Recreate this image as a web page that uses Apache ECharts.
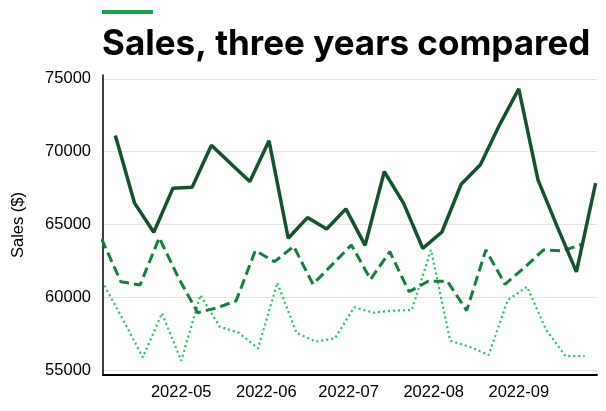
<!DOCTYPE html>
<html lang="en">
<head>
<meta charset="UTF-8"/>
<style>
  html, body { margin: 0; padding: 0; background: #fff; }
  #main { width: 606px; height: 411px; }
</style>
</head>
<body>
<div id="main"></div>
<script src="https://cdn.jsdelivr.net/npm/echarts@6/dist/echarts.min.js"></script>
<script type="text/javascript">
    // weekly sales, each year on its own weekly dates
    var dates2022 = ['2022-04-07','2022-04-14','2022-04-21','2022-04-28','2022-05-05','2022-05-12','2022-05-19','2022-05-26',
        '2022-06-02','2022-06-09','2022-06-16','2022-06-23','2022-06-30','2022-07-07','2022-07-14','2022-07-21','2022-07-28',
        '2022-08-04','2022-08-11','2022-08-18','2022-08-25','2022-09-01','2022-09-08','2022-09-15','2022-09-22','2022-09-29'];
    var sales2022 = [71100, 66460, 64460, 67490, 67560, 70440, 69190, 67940,
        70740, 64050, 65470, 64690, 66070, 63560, 68630, 66460, 63360,
        64480, 67760, 69090, 71840, 74310, 68060, 64850, 61740, 67830];

    var datesPrev1 = ['2022-04-02','2022-04-09','2022-04-16','2022-04-23','2022-04-30','2022-05-07','2022-05-14','2022-05-21',
        '2022-05-28','2022-06-04','2022-06-11','2022-06-18','2022-06-25','2022-07-02','2022-07-09','2022-07-16','2022-07-23',
        '2022-07-30','2022-08-06','2022-08-13','2022-08-20','2022-08-27','2022-09-03','2022-09-10','2022-09-17','2022-09-24'];
    var salesPrev1 = [64000, 61070, 60840, 64090, 61330, 58940, 59270, 59750,
        63200, 62440, 63500, 60890, 62240, 63590, 61230, 63130, 60380,
        61100, 61100, 59080, 63250, 60890, 62030, 63250, 63180, 63640];

    var datesPrev2 = ['2022-04-03','2022-04-10','2022-04-17','2022-04-24','2022-05-01','2022-05-08','2022-05-15','2022-05-22',
        '2022-05-29','2022-06-05','2022-06-12','2022-06-19','2022-06-26','2022-07-03','2022-07-10','2022-07-17','2022-07-24',
        '2022-07-31','2022-08-07','2022-08-14','2022-08-21','2022-08-28','2022-09-04','2022-09-11','2022-09-18','2022-09-25'];
    var salesPrev2 = [60800, 58390, 55870, 58900, 55640, 60150, 57980, 57560,
        56490, 61000, 57560, 56950, 57180, 59310, 58940, 59080, 59120,
        63250, 57020, 56600, 56030, 59810, 60720, 57750, 55960, 55960];

    var yTicks = [55000, 60000, 65000, 70000, 75000];

    function ts(s) {
        var p = s.split('-');
        return Date.UTC(+p[0], +p[1] - 1, +p[2]);
    }
    function pairs(d, v) {
        return d.map(function (s, i) { return [ts(s), v[i]]; });
    }

    var DAY = 86400000;
    var myChart = echarts.init(document.getElementById('main'));

    var options = {
        useUTC: true,
        animation: false,
        backgroundColor: '#ffffff',
        graphic: [
            { type: 'rect', left: 102, top: 10, shape: { width: 51, height: 4 }, style: { fill: '#16a34a' } },
            { type: 'text', left: 102, top: 27,
              style: { text: 'Sales, three years compared', font: 'bold 35px Inter', fill: '#000000' } }
        ],
        grid: { left: 103, right: 9, top: 75, bottom: 36 },
        xAxis: {
            type: 'time',
            min: ts('2022-04-02') + DAY / 2,
            max: ts('2022-09-29') + DAY / 2,
            minInterval: 28 * DAY,
            maxInterval: 31 * DAY,
            axisLine: { lineStyle: { color: '#000', width: 2 } },
            axisTick: { show: false },
            splitLine: { show: false },
            axisLabel: {
                formatter: function (val) {
                    var d = new Date(val);
                    if (d.getUTCDate() !== 1) return '';
                    return echarts.time.format(val, '{yyyy}-{MM}', true);
                },
                color: '#000', fontFamily: 'Liberation Sans', fontSize: 16.5, margin: 9,
                hideOverlap: false
            }
        },
        yAxis: {
            type: 'value',
            min: 54660,
            max: 75260,
            name: 'Sales ($)',
            nameLocation: 'middle',
            nameGap: 76,
            nameRotate: 90,
            nameTextStyle: { color: '#000', fontFamily: 'Liberation Sans', fontSize: 16.5, fontWeight: 'normal' },
            axisLine: { show: true, lineStyle: { color: '#000', width: 1.5 } },
            axisTick: { show: false, customValues: yTicks },
            splitLine: { show: true, lineStyle: { color: '#e3e3e3', width: 1 } },
            axisLabel: {
                customValues: yTicks,
                formatter: function (v) { return String(v); },
                color: '#000', fontFamily: 'Liberation Sans', fontSize: 16.5, margin: 12
            }
        },
        series: [
            {
                name: '2020', type: 'line', symbol: 'none', clip: true,
                data: pairs(datesPrev2, salesPrev2),
                lineStyle: { color: '#22c55e', width: 2.2, type: [2, 3] }
            },
            {
                name: '2021', type: 'line', symbol: 'none', clip: true,
                data: pairs(datesPrev1, salesPrev1),
                lineStyle: { color: '#15803d', width: 3, type: [10, 5] }
            },
            {
                name: '2022', type: 'line', symbol: 'none', clip: true,
                data: pairs(dates2022, sales2022),
                lineStyle: { color: '#14532d', width: 3.5 }
            }
        ]
    };

    myChart.setOption(options);
</script>
</body>
</html>
